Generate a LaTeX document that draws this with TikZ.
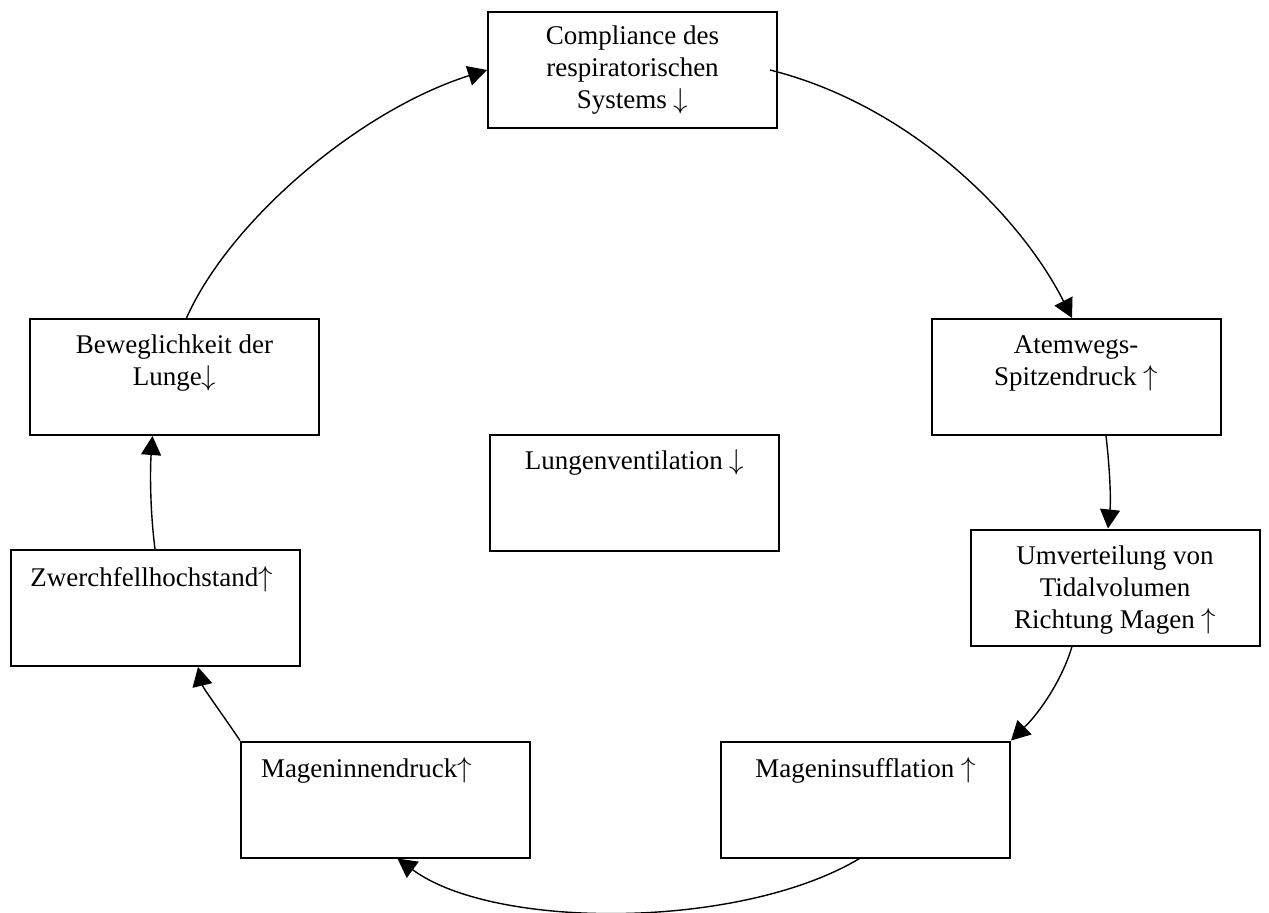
\documentclass[tikz,border=0pt]{standalone}
\usepackage{fontspec}
\setmainfont{Liberation Serif}
\usetikzlibrary{arrows.meta,calc}

% text of a box: first baseline at #1 below the top edge
\newcommand{\boxlines}[3][17.5pt]{\parbox[c][58pt][t]{144.5pt}{#2\leavevmode\rule{0pt}{#1}#3\par}}

\begin{document}
\begin{tikzpicture}[x=0.5pt,y=-0.5pt,
    stage/.style={draw,line width=1pt,inner sep=0pt,
      font=\fontsize{13.5pt}{16pt}\selectfont},
    arr/.style={-{Triangle[length=9.5pt,width=10pt]},line width=0.7pt}
  ]
    \useasboundingbox (0,0) rectangle (1269,912);

    \node[stage] (comp) at (632.5,70)
      {\boxlines[16pt]{\centering}{Compliance des\\respiratorischen\\Systems $\downarrow$}};
    \node[stage] (atem) at (1076,377)
      {\boxlines[17pt]{\centering}{Atemwegs-\\Spitzendruck $\uparrow$}};
    \node[stage] (umv) at (1115,587.5)
      {\boxlines{\centering}{Umverteilung von\\Tidalvolumen\\Richtung Magen $\uparrow$}};
    \node[stage] (insuf) at (865.5,799.5)
      {\boxlines[18pt]{\centering}{Mageninsufflation $\uparrow$}};
    \node[stage] (innen) at (385.5,799.5)
      {\boxlines[18pt]{\raggedright\hspace*{10pt}}{Mageninnendruck$\uparrow$}};
    \node[stage] (zwerch) at (155,608)
      {\boxlines[18pt]{\raggedright\hspace*{10pt}}{Zwerchfellhochstand$\uparrow$}};
    \node[stage] (bewegl) at (174.5,377)
      {\boxlines[17pt]{\centering}{Beweglichkeit der\\Lunge$\downarrow$}};
    \node[stage] (vent) at (634.5,492.5)
      {\boxlines{\centering}{Lungenventilation $\downarrow$}};

    % circle of effects
    \draw[arr] ([xshift=-4pt]comp.east) .. controls (910,105) and (1020,215) .. ([xshift=-2pt]atem.north);
    \draw[arr] ([xshift=15pt]atem.south) .. controls (1110,470) and (1111,500) .. ([xshift=-3.5pt]umv.north);
    \draw[arr] ([xshift=-21.5pt]umv.south) .. controls (1062,680) and (1040,712) .. (insuf.north east);
    \draw[arr] ([xshift=-3pt]insuf.south) .. controls (740,930) and (494,930) .. ([xshift=6pt]innen.south);
    \draw[arr] (innen.north west) .. controls (225,718) and (203,688) .. ([xshift=21.5pt]zwerch.south);
    \draw[arr] (zwerch.north) .. controls (150,510) and (150,470) .. ([xshift=-11pt]bewegl.south);
    \draw[arr] ([xshift=6pt]bewegl.north) .. controls (230,220) and (360,110) .. (comp.west);
  \end{tikzpicture}
\end{document}
